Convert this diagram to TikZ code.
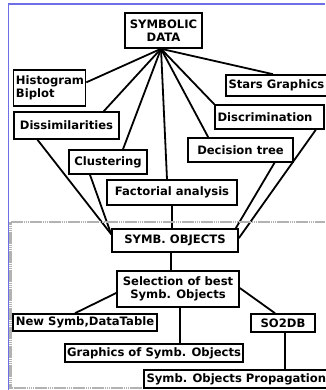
\documentclass[tikz,border=0pt]{standalone}
\usepackage{fontspec}
\setmainfont{DejaVu Sans}
\usetikzlibrary{calc}
\pgfdeclarelayer{bg}
\pgfsetlayers{bg,main}
\tikzset{
  bx/.style={draw=black, line width=1.6pt, fill=white, inner sep=1pt,
    font=\fontsize{11.6}{12.5}\selectfont\bfseries, align=center},
  ln/.style={line width=1.8pt, black},
  sep/.style={line width=2.2pt, color=gray!60, dash pattern=on 1.5pt off 0.4pt},
}
\newcommand{\lbox}[2]{\makebox[#1][l]{#2}}
\begin{document}
\begin{tikzpicture}[x=1pt,y=-1pt]
\useasboundingbox (0,0) rectangle (325,390);
% nodes
\node[bx, minimum width=77pt, minimum height=35pt] (sd) at (163.5,30.5) {SYMBOLIC\\DATA};
\node[bx, minimum width=72pt, minimum height=36pt, align=left, text width=67pt] (hist) at (49.5,88) {Histogram\\Biplot};
\node[bx, minimum width=104pt, minimum height=21pt] (stars) at (278,85.5) {\lbox{99pt}{Stars Graphics}};
\node[bx, minimum width=109pt, minimum height=24pt] (disc) at (269.5,117) {\lbox{104pt}{Discrimination}};
\node[bx, minimum width=105pt, minimum height=27pt] (diss) at (66.5,125.5) {Dissimilarities};
\node[bx, minimum width=78pt, minimum height=24pt] (clus) at (108,162) {Clustering};
\node[bx, minimum width=105pt, minimum height=24pt] (dec) at (240.5,150) {Decision tree};
\node[bx, minimum width=130pt, minimum height=25pt] (fact) at (172,192.5) {Factorial analysis};
\node[bx, minimum width=126pt, minimum height=23pt] (so) at (175,240.5) {SYMB. OBJECTS};
\node[bx, minimum width=122pt, minimum height=36pt] (sel) at (178,289) {Selection of best\\Symb. Objects};
\node[bx, minimum width=144pt, minimum height=17pt] (nsd) at (85,322.5) {New Symb,DataTable};
\node[bx, minimum width=64pt, minimum height=18pt] (so2db) at (283,323) {SO2DB};
\node[bx, minimum width=178pt, minimum height=18pt] (gra) at (154,353) {Graphics of Symb. Objects};
\node[bx, minimum width=186pt, minimum height=18pt] (prop) at (237,379) {\lbox{181pt}{Symb. Objects Propagation}};
% connectors
\coordinate (F) at ([xshift=-2.5pt]sd.south);
\coordinate (SL) at ([yshift=-6pt]so.north west);
\coordinate (SR) at ([xshift=-3pt]so.north east);
\coordinate (SE) at ([yshift=-10pt]so.north east);
\begin{pgfonlayer}{bg}
\fill[white] (0,0) rectangle (325,390);
\draw[line width=1.6pt, color={rgb,255:red,110;green,110;blue,230}] (8.5,390) -- (8.5,4) -- (325,4);
\draw[ln] (F) -- ($(hist.north east)!0.35!(hist.south east)$);
\draw[ln] (F) -- ([xshift=-5pt]stars.north);
\draw[ln] (F) -- (disc.north west);
\draw[ln] (F) -- ([xshift=-16pt]diss.north east);
\draw[ln] (F) -- ([xshift=15pt]clus.north);
\draw[ln] (F) -- ([xshift=-5pt]fact.north);
\draw[ln] (F) -- ([xshift=21pt]dec.north west);
\draw[ln] ([xshift=-29pt]diss.south) -- (SL);
\draw[ln] ([xshift=-18pt]clus.south) -- (SL);
\draw[ln] (fact.south) -- (fact.south |- so.north);
\draw[ln] ([xshift=34pt]dec.south) -- (SR);
\draw[ln] ([xshift=-9pt]disc.south east) -- (SE);
\draw[ln] ([xshift=-4pt]so.south) -- ([xshift=-4pt]so.south |- sel.north);
\draw[ln] ([yshift=-4pt]sel.west) -- ([xshift=-10pt]nsd.north);
\draw[ln] ([xshift=2pt]sel.south) -- ([xshift=2pt]sel.south |- gra.north);
\draw[ln] ([yshift=1pt]sel.east) -- ([xshift=-8pt]so2db.north);
\draw[ln] ([xshift=2pt]so2db.south) -- ([xshift=2pt]so2db.south |- prop.north);
\draw[sep] (10.5,222) -- (325,222);
\draw[sep] (10.5,222) -- (10.5,388) -- (325,388);
\end{pgfonlayer}
\end{tikzpicture}
\end{document}
